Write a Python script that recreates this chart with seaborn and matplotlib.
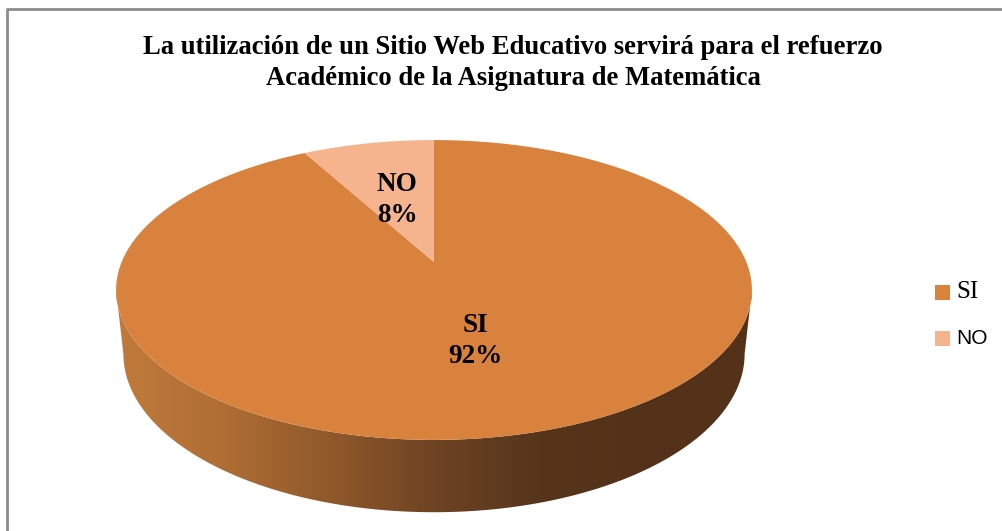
import numpy as np
import matplotlib
matplotlib.use("Agg")
import matplotlib.pyplot as plt
from matplotlib.patches import Polygon, Rectangle
import seaborn as sns

# datos del grafico
categorias = ["SI", "NO"]
valores = [92, 8]
colores = ["#D9823D", "#F6B48E"]
titulo = ("La utilización de un Sitio Web Educativo servirá para el refuerzo\n"
          "Académico de la Asignatura de Matemática")

sns.set_style("white")
plt.rcParams['font.family'] = ['Liberation Serif', 'DejaVu Serif']
plt.rcParams['text.color'] = 'black'

W, H = 1003, 531
fig = plt.figure(figsize=(W / 100, H / 100), dpi=100)
ax = fig.add_axes([0, 0, 1, 1])
ax.set_xlim(0, W)
ax.set_ylim(H, 0)
ax.axis("off")

# borde del area del grafico
ax.plot([7, 7, W], [H, 9, 9], color="#8c8c8c", lw=2, solid_capstyle="butt")

# proyeccion en perspectiva del disco
cx, cy = 434, 262
k, s = np.cos(np.radians(27.6)), np.sin(np.radians(27.6))
D, f, h = 4.748, 1483.0, 0.233


def proyectar(X, Y, Z):
    d = D + Y * k - Z * s
    sx = f * X / d
    sy = f * (Y * s + Z * k) / d
    return cx + sx, cy - sy


# lado visible (frente del cilindro)
t_top = np.arcsin(-k / D)
t_bot = np.arcsin(-k / (D + h * s))
ta = np.linspace(np.pi - t_top, 2 * np.pi + t_top, 200)
tb = np.linspace(2 * np.pi + t_bot, np.pi - t_bot, 200)
xa, ya = proyectar(np.cos(ta), np.sin(ta), 0)
xb, yb = proyectar(np.cos(tb), np.sin(tb), -h)
lado = Polygon(np.column_stack([np.r_[xa, xb], np.r_[ya, yb]]),
               closed=True, facecolor="none", edgecolor="none")
ax.add_patch(lado)
grad_cmap = sns.blend_palette(["#C07A3B", "#B06E35", "#90592A", "#6E4424",
                               "#56351B", "#533219", "#533219"], as_cmap=True)
x0, x1 = xa.min(), xa.max()
grad = np.linspace(0, 1, 256).reshape(1, -1)
img = ax.imshow(grad, cmap=grad_cmap, extent=[x0, x1, yb.max() + 2, ya.min() - 2],
                aspect="auto", interpolation="bilinear", zorder=1)
img.set_clip_path(lado)

# cara superior con las porciones (NO empieza arriba y gira a la izquierda)
total = sum(valores)
angulos = {}
a = 90.0
for cat in ["NO", "SI"]:
    v = valores[categorias.index(cat)]
    span = 360.0 * v / total
    angulos[cat] = (a, a + span)
    a += span

for cat in categorias:
    a0, a1 = angulos[cat]
    t = np.radians(np.linspace(a0, a1, 300))
    px, py = proyectar(np.cos(t), np.sin(t), 0)
    pts = np.column_stack([np.r_[cx, px], np.r_[cy, py]])
    ax.add_patch(Polygon(pts, closed=True,
                         facecolor=colores[categorias.index(cat)],
                         edgecolor="none", zorder=2))

# etiquetas de datos
for cat in categorias:
    a0, a1 = angulos[cat]
    tm = np.radians((a0 + a1) / 2)
    r = 0.5
    lx, ly = proyectar(r * np.cos(tm), r * np.sin(tm), 0)
    pct = 100 * valores[categorias.index(cat)] / total
    ax.text(lx - 1, ly + 2, f"{cat}\n{pct:.0f}%", ha="center", va="center",
            fontsize=19.5, fontweight="bold", linespacing=1.3, zorder=3)

# titulo
ax.text(513, 63, titulo, ha="center", va="center", fontsize=19.2,
        fontweight="bold", linespacing=1.3)

# leyenda
leg_y = [292, 338]
fuentes = [['Liberation Serif'], ['Liberation Sans', 'DejaVu Sans']]
tams = [18, 15]
for cat, yy, fam, fs in zip(categorias, leg_y, fuentes, tams):
    ax.add_patch(Rectangle((935, yy - 7.5), 15, 15,
                           facecolor=colores[categorias.index(cat)],
                           edgecolor="none"))
    ax.text(956, yy, cat, ha="left", va="center", fontsize=fs, family=fam)

fig.savefig("out.png", dpi=100)
